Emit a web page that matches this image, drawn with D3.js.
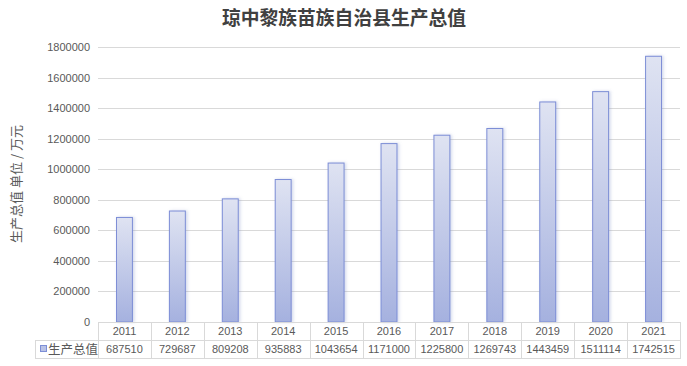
<!DOCTYPE html>
<html><head><meta charset="utf-8">
<script src="https://cdn.jsdelivr.net/npm/d3@7"></script>
<style>body{margin:0;background:#fff;}</style>
</head><body>
<svg id="c" width="687" height="366"></svg>
<script>
const title = "琼中黎族苗族自治县生产总值";
const yLabel = "生产总值 单位 / 万元";
const seriesName = "生产总值";
const years = ["2011","2012","2013","2014","2015","2016","2017","2018","2019","2020","2021"];
const values = [687510,729687,809208,935883,1043654,1171000,1225800,1269743,1443459,1511114,1742515];
const yTicks = [0,200000,400000,600000,800000,1000000,1200000,1400000,1600000,1800000];

(function(){
const svg = d3.select("#c");
const pL = 98, pR = 680, pT = 47, pB = 322;
const x = d3.scaleBand().domain(years).range([pL, pR]).paddingInner(0.68).paddingOuter(0.34);
const xc = d3.scaleBand().domain(years).range([pL, pR]);
const y = d3.scaleLinear().domain([0,1800000]).range([pB, pT]);

const defs = svg.append("defs");
const g = defs.append("linearGradient").attr("id","bg").attr("x1",0).attr("y1",0).attr("x2",0).attr("y2",1);
g.append("stop").attr("offset","0%").attr("stop-color","#dfe3f2");
g.append("stop").attr("offset","100%").attr("stop-color","#a5b1df");
const f = defs.append("filter").attr("id","sh").attr("x","-50%").attr("y","-10%").attr("width","200%").attr("height","120%");
f.append("feDropShadow").attr("dx",1.5).attr("dy",0).attr("stdDeviation",1.5).attr("flood-color","#8090c8").attr("flood-opacity",0.35);

svg.append("text").attr("x",344).attr("y",25).attr("text-anchor","middle")
  .attr("font-family","'Noto Sans CJK SC'").attr("font-weight","bold").attr("font-size",18.8)
  .attr("fill","#404040").text(title);

svg.append("g").selectAll("line").data(yTicks.filter(d=>d>0)).join("line")
  .attr("x1",pL).attr("x2",pR).attr("y1",d=>Math.round(y(d))+0.5).attr("y2",d=>Math.round(y(d))+0.5)
  .attr("stroke","#d9d9d9");

svg.append("g").selectAll("text").data(yTicks).join("text")
  .attr("x",90).attr("y",d=>y(d)+4).attr("text-anchor","end")
  .attr("font-family","'Liberation Sans', Arial, sans-serif").attr("font-size",11).attr("fill","#595959")
  .text(d=>d);

svg.append("text").attr("transform","translate(20.5,184) rotate(-90)").attr("text-anchor","middle")
  .attr("font-family","'Noto Sans CJK SC'").attr("font-size",13).attr("fill","#595959")
  .attr("xml:space","preserve").style("white-space","pre").text(yLabel);

svg.append("g").selectAll("rect").data(values).join("rect")
  .attr("x",(d,i)=>x(years[i])+0.5).attr("width",x.bandwidth()-1)
  .attr("y",d=>y(d)+0.5).attr("height",d=>pB-y(d)-0.5)
  .attr("fill","url(#bg)").attr("stroke","#7d8ed6").attr("stroke-width",1).attr("filter","url(#sh)");

const tb = svg.append("g").attr("stroke","#d9d9d9").attr("fill","none");
const r0 = pB, r1 = 340, r2 = 358, legL = 35;
tb.append("line").attr("x1",pL).attr("x2",pR).attr("y1",r0+0.5).attr("y2",r0+0.5);
tb.append("line").attr("x1",legL).attr("x2",pR).attr("y1",r1+0.5).attr("y2",r1+0.5);
tb.append("line").attr("x1",legL).attr("x2",pR).attr("y1",r2+0.5).attr("y2",r2+0.5);
tb.append("line").attr("x1",legL+0.5).attr("x2",legL+0.5).attr("y1",r1).attr("y2",r2+1);
tb.selectAll(".v").data(years.concat(["end"])).join("line")
  .attr("x1",(d,i)=>Math.round(pL+i*xc.bandwidth())+0.5).attr("x2",(d,i)=>Math.round(pL+i*xc.bandwidth())+0.5)
  .attr("y1",r0).attr("y2",r2+1);

svg.append("g").selectAll("text").data(years).join("text")
  .attr("x",d=>xc(d)+xc.bandwidth()/2).attr("y",335).attr("text-anchor","middle")
  .attr("font-family","'Liberation Sans', Arial, sans-serif").attr("font-size",11).attr("fill","#595959").text(d=>d);
svg.append("g").selectAll("text").data(values).join("text")
  .attr("x",(d,i)=>xc(years[i])+xc.bandwidth()/2).attr("y",353).attr("text-anchor","middle")
  .attr("font-family","'Liberation Sans', Arial, sans-serif").attr("font-size",11).attr("fill","#595959").text(d=>d);

svg.append("rect").attr("x",40.5).attr("y",345.5).attr("width",6).attr("height",6)
  .attr("fill","#b9c2e6").attr("stroke","#7d8ed6");
svg.append("text").attr("x",48).attr("y",354).attr("font-family","'Noto Sans CJK SC'").attr("font-size",12.5)
  .attr("fill","#595959").text(seriesName);
})();
</script>
</body></html>
